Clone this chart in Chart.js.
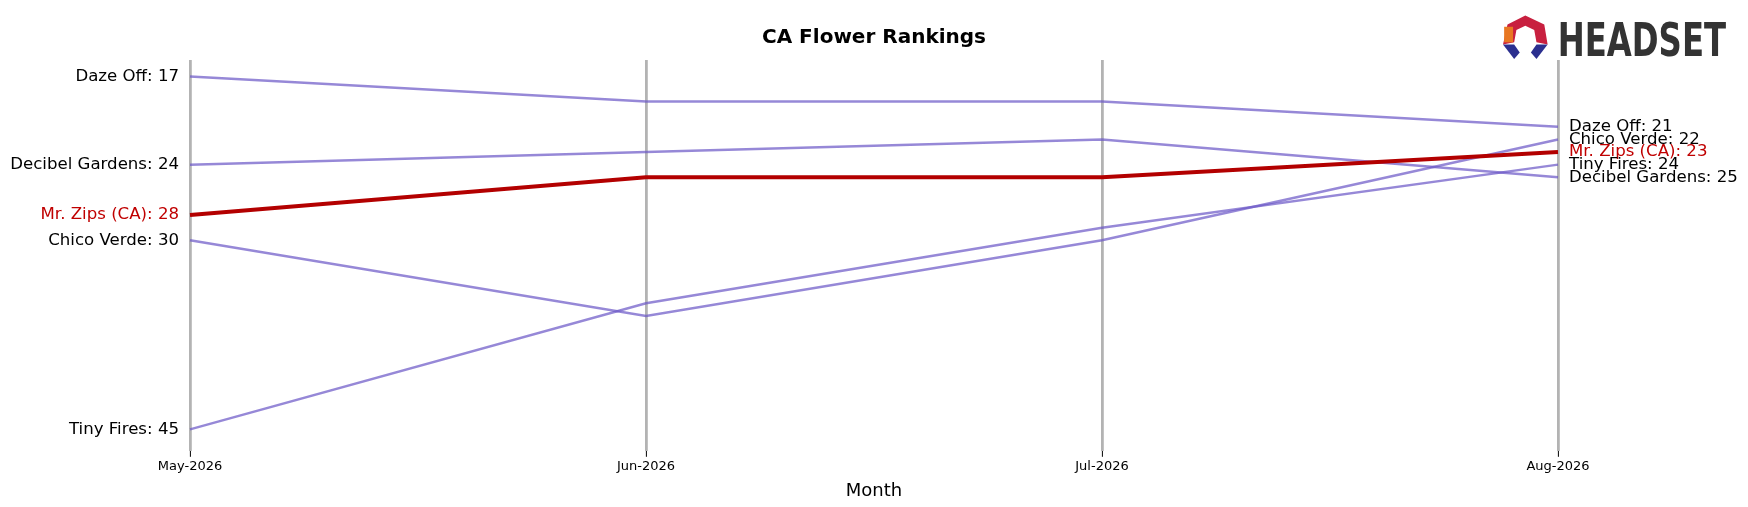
<!DOCTYPE html>
<html><head><meta charset="utf-8">
<script src="https://cdn.jsdelivr.net/npm/chart.js@4"></script>
<style>html,body{margin:0;padding:0;background:#fff}#w{width:1748px;height:507px;position:relative}</style>
</head><body><div id="w"><canvas id="c"></canvas></div>
<script>
const months = ["May-2026","Jun-2026","Jul-2026","Aug-2026"];
const brands = ["Daze Off","Decibel Gardens","Mr. Zips (CA)","Chico Verde","Tiny Fires"];
const dazeOff = [17,19,19,21];
const decibel = [24,23,22,25];
const mrZips = [28,25,25,23];
const chicoVerde = [30,36,30,22];
const tinyFires = [45,35,29,24];
const seriesVals = [dazeOff,decibel,mrZips,chicoVerde,tinyFires];
const highlight = "Mr. Zips (CA)";

const labelPlugin = {
  id:'lbl',
  afterDatasetsDraw(chart){
    const ctx=chart.ctx, xs=chart.scales.x, ys=chart.scales.y;
    ctx.save();
    ctx.font='16.6px "DejaVu Sans"';
    ctx.textBaseline='middle';
    brands.forEach((b,i)=>{
      const v=seriesVals[i];
      ctx.fillStyle = b===highlight ? '#c00000' : '#000';
      ctx.textAlign='right';
      ctx.fillText(b+': '+v[0], xs.getPixelForValue(0)-11, ys.getPixelForValue(v[0]));
      ctx.textAlign='left';
      ctx.fillText(b+': '+v[3], xs.getPixelForValue(3)+11, ys.getPixelForValue(v[3]));
    });
    // logo
    ctx.scale(1.115,1.115);
    ctx.font='bold 42px "DejaVu Sans Condensed", "DejaVu Sans"';
    ctx.fillStyle='#333';
    ctx.textAlign='left';ctx.textBaseline='alphabetic';
    ctx.fillText('HEADSET',1397,50,151);
    ctx.fillStyle='#c8203f';
    ctx.beginPath();ctx.moveTo(1352,22);ctx.lineTo(1368,14);ctx.lineTo(1385,22);ctx.lineTo(1388,40);ctx.lineTo(1378,38);ctx.lineTo(1376,27);ctx.lineTo(1368,23);ctx.lineTo(1360,27);ctx.lineTo(1358,38);ctx.lineTo(1348,40);ctx.closePath();ctx.fill();
    ctx.fillStyle='#e87722';ctx.fillRect(1349,24,8,14);
    ctx.fillStyle='#2b2f8f';
    ctx.beginPath();ctx.moveTo(1348,40);ctx.lineTo(1358,40);ctx.lineTo(1363,47);ctx.lineTo(1358,53);ctx.closePath();ctx.fill();
    ctx.beginPath();ctx.moveTo(1388,40);ctx.lineTo(1378,40);ctx.lineTo(1373,47);ctx.lineTo(1378,53);ctx.closePath();ctx.fill();
    ctx.restore();
  }
};

new Chart(document.getElementById('c'),{
  type:'line',
  data:{labels:months,datasets:brands.map((b,i)=>({
    label:b,data:seriesVals[i],
    borderColor: b===highlight?'#b30000':'rgba(110,90,200,0.72)',
    borderWidth: b===highlight?4:2.5,
    pointRadius:0,tension:0,
    order: b===highlight?0:1
  }))},
  options:{
    responsive:true,maintainAspectRatio:false,animation:false,
    layout:{padding:{left:190,right:190,top:0,bottom:1}},
    plugins:{legend:{display:false},tooltip:{enabled:false},
      title:{display:true,text:'CA Flower Rankings',font:{family:'DejaVu Sans',size:20,weight:'bold'},color:'#000',padding:{top:26,bottom:10}}},
    scales:{
      x:{type:'category',offset:false,
        grid:{color:'rgba(128,128,128,0.6)',lineWidth:2.8,drawTicks:true,tickLength:6,tickColor:'#000',tickWidth:1},
        border:{display:false},
        ticks:{color:'#000',font:{family:'DejaVu Sans',size:13},maxRotation:0,padding:2},
        title:{display:true,text:'Month',color:'#000',font:{family:'DejaVu Sans',size:18},padding:{top:4}}},
      y:{display:false,reverse:true,min:15.7,max:46.7}
    }
  },
  plugins:[labelPlugin]
});
</script></body></html>
